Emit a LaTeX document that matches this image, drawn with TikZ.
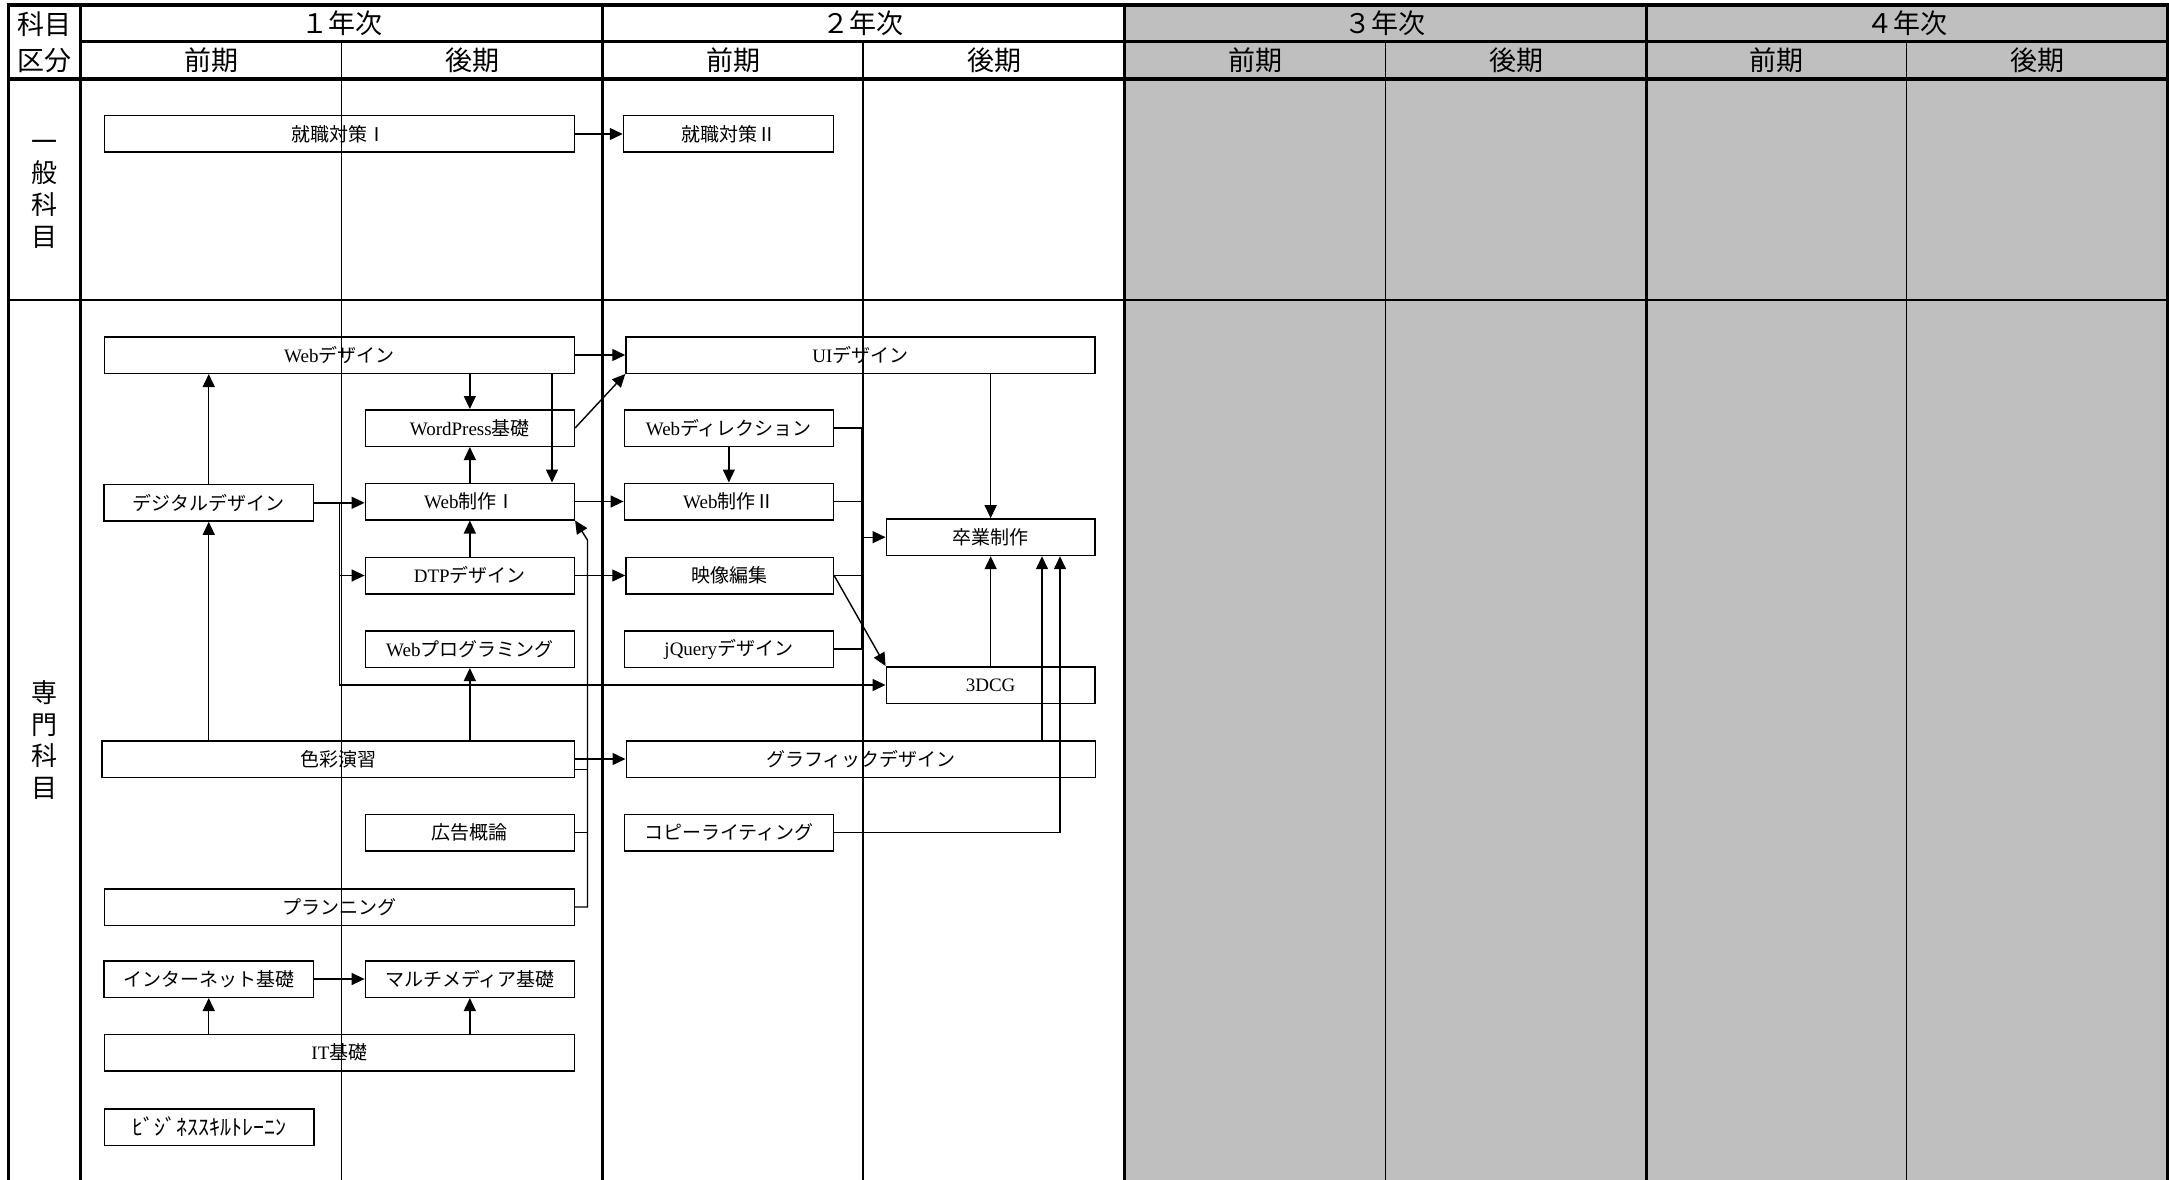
\documentclass[tikz,border=0pt]{standalone}
\usepackage{fontspec}
\setmainfont{Noto Sans CJK JP}
\newfontfamily\lat{Liberation Serif}
\usetikzlibrary{arrows.meta}
\definecolor{cellgray}{RGB}{191,191,191}
\begin{document}
\begin{tikzpicture}[x=1pt,y=-1pt,
  box/.style={draw, line width=1.5pt, inner sep=0pt, minimum height=36.5pt, font=\fontsize{19}{22}\selectfont},
  smallbox/.style={box, font=\fontsize{22}{24}\selectfont},
  arr/.style={line width=1.4pt, -{Triangle[length=13pt,width=12pt]}},
  con/.style={line width=1.4pt},
  hdr/.style={inner sep=0pt, font=\fontsize{27}{30}\selectfont},
  vlab/.style={inner sep=0pt, align=center, font=\fontsize{26}{31.6}\selectfont},
  thinline/.style={line width=1.3pt},
  thickline/.style={line width=3pt},
  outer/.style={line width=3.5pt}]
\useasboundingbox (0,0) rectangle (2169,1180);
% shaded years 3 and 4
\fill[cellgray] (1124,5) rectangle (2167.5,1180);
% thin grid
\foreach \x in {341.5,863,1385.5,1906.5} \draw[thinline] (\x,42) -- (\x,1180);
\draw[thinline] (8.5,300) -- (2167.5,300);
% thick grid
\foreach \x in {80.7,602.3,1124,1646} \draw[thickline] (\x,5) -- (\x,1180);
\draw[thickline] (80.7,42) -- (2167.5,42);
\draw[outer] (8.5,79) -- (2167.5,79);
\draw[outer] (8.5,1180) -- (8.5,5) -- (2167.5,5) -- (2167.5,1180);
% headers
\node[hdr] (k1) at (44.6,24) {科目};
\node[hdr] (k2) at (44.6,60.5) {区分};
\node[hdr] (y1) at (341.5,23.5) {１年次};
\node[hdr] (y2) at (863,23.5) {２年次};
\node[hdr] (y3) at (1385,23.5) {３年次};
\node[hdr] (y4) at (1906.5,23.5) {４年次};
\node[hdr] (t1) at (211,60.5) {前期};
\node[hdr] (t2) at (472,60.5) {後期};
\node[hdr] (t3) at (733,60.5) {前期};
\node[hdr] (t4) at (994,60.5) {後期};
\node[hdr] (t5) at (1255,60.5) {前期};
\node[hdr] (t6) at (1516,60.5) {後期};
\node[hdr] (t7) at (1776,60.5) {前期};
\node[hdr] (t8) at (2037,60.5) {後期};
\node[vlab] (ippan) at (44,194) {一\\般\\科\\目};
\node[vlab] (senmon) at (44,740) {専\\門\\科\\目};
% boxes
\node[box, minimum width=469.8pt] (shoku1) at (339.4,134) {就職対策Ⅰ};
\node[box, minimum width=210pt] (shoku2) at (728.5,134) {就職対策Ⅱ};
\node[box, minimum width=469.8pt] (webdes) at (339.4,355) {{\lat Web}デザイン};
\node[box, minimum width=469pt] (uides) at (860.5,355) {{\lat UI}デザイン};
\node[box, minimum width=209pt] (wp) at (469.85,428) {{\lat WordPress}基礎};
\node[box, minimum width=209pt] (webdir) at (728.85,428) {{\lat Web}ディレクション};
\node[box, minimum width=209.5pt] (digi) at (208.75,502.8) {デジタルデザイン};
\node[box, minimum width=209pt] (web1) at (469.85,501.5) {{\lat Web}制作Ⅰ};
\node[box, minimum width=209pt] (web2) at (728.85,501.5) {{\lat Web}制作Ⅱ};
\node[box, minimum width=208.7pt] (sotsu) at (990.65,537.2) {卒業制作};
\node[box, minimum width=209pt] (dtp) at (469.85,575.5) {{\lat DTP}デザイン};
\node[box, minimum width=207.4pt] (eizo) at (729.7,575.5) {映像編集};
\node[box, minimum width=209pt] (webprog) at (469.85,649) {{\lat Web}プログラミング};
\node[box, minimum width=209pt] (jq) at (728.85,649) {{\lat jQuery}デザイン};
\node[box, minimum width=208.7pt] (dcg) at (990.65,685) {{\lat 3DCG}};
\node[box, minimum width=472.3pt] (shikisai) at (338.2,759) {色彩演習};
\node[box, minimum width=469.3pt] (graphic) at (860.9,759) {グラフィックデザイン};
\node[box, minimum width=209pt] (koukoku) at (469.85,832.5) {広告概論};
\node[box, minimum width=209pt] (copy) at (728.85,832.5) {コピーライティング};
\node[box, minimum width=469.8pt] (plan) at (339.4,907) {プランニング};
\node[box, minimum width=209.5pt] (inet) at (208.75,979) {インターネット基礎};
\node[box, minimum width=209pt] (multi) at (469.85,979) {マルチメディア基礎};
\node[box, minimum width=469.8pt] (it) at (339.4,1052.7) {{\lat IT}基礎};
\node[smallbox, minimum width=209.4pt] (biz) at (209.3,1127) {ﾋﾞｼﾞﾈｽｽｷﾙﾄﾚｰﾆﾝ};
% helper coordinates
\coordinate (xA) at (552,0);
\coordinate (br) at (339.6,0);
\coordinate (kink) at (587.5,540);
\coordinate (c769) at (0,769.3);
\coordinate (mv) at (862,0);
\coordinate (xG) at (1042,0);
\coordinate (xC) at (1060,0);
% connectors
\draw[arr] (shoku1.east) -- (shoku2.west);
\draw[arr] (digi.north) -- (digi.north |- webdes.south);
\draw[arr] (wp.north |- webdes.south) -- (wp.north);
\draw[arr] (webdes.south -| xA) -- (web1.north -| xA);
\draw[arr] (web1.north) -- (wp.south);
\draw[arr] (dtp.north) -- (web1.south);
\draw[arr] (digi.east) -- (digi.east -| web1.west);
\draw[arr] (digi.east -| br) |- (dcg.west);
\draw[arr] (dtp.west -| br) -- (dtp.west);
\draw[arr] (shikisai.north -| digi.south) -- (digi.south);
\draw[arr] (shikisai.north -| webprog.south) -- (webprog.south);
\draw[arr] (plan.east) -| (kink) -- (web1.south east);
\draw[con] (koukoku.east) -- (koukoku.east -| kink);
\draw[con] (shikisai.east |- c769) -- (kink |- c769);
\draw[arr] (shikisai.east) -- (graphic.west);
\draw[arr] (inet.east) -- (inet.east -| multi.west);
\draw[arr] (it.north -| inet.south) -- (inet.south);
\draw[arr] (it.north -| multi.south) -- (multi.south);
\draw[arr] (webdes.east) -- (uides.west);
\draw[arr] (wp.east) -- (uides.south west);
\draw[arr] (web1.east) -- (web2.west);
\draw[arr] (dtp.east) -- (eizo.west);
\draw[arr] (webdir.south) -- (web2.north);
\draw[arr] (uides.south -| sotsu.north) -- (sotsu.north);
\draw[con] (webdir.east) -| (mv |- jq.east) -- (jq.east);
\draw[con] (web2.east) -- (web2.east -| mv);
\draw[con] (eizo.east) -- (eizo.east -| mv);
\draw[arr] (sotsu.west -| mv) -- (sotsu.west);
\draw[arr] (eizo.east) -- (dcg.north west);
\draw[arr] (dcg.north) -- (sotsu.south);
\draw[arr] (graphic.north -| xG) -- (sotsu.south -| xG);
\draw[arr] (copy.east) -| (sotsu.south -| xC);
\end{tikzpicture}
\end{document}
